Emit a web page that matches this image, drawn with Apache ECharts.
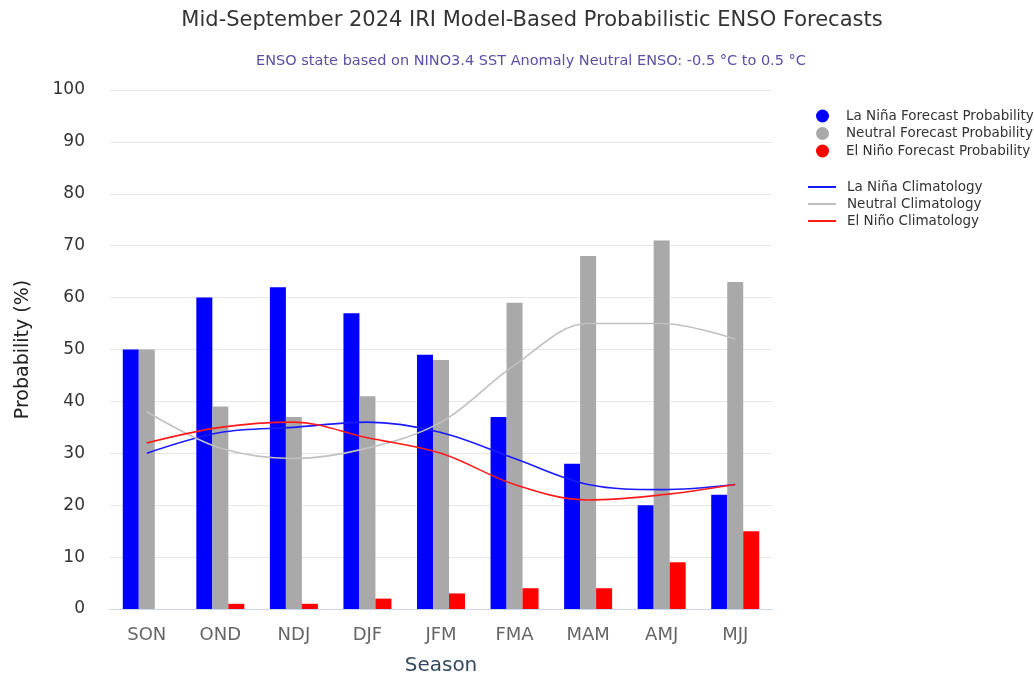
<!DOCTYPE html>
<html>
<head>
<meta charset="utf-8">
<script src="https://cdn.jsdelivr.net/npm/echarts@6/dist/echarts.min.js"></script>
<style>
  html, body { margin: 0; padding: 0; background: #fff; }
  #chart { width: 1034px; height: 681px; }
</style>
</head>
<body>
<div id="chart"></div>
<script>
const seasons = ['SON', 'OND', 'NDJ', 'DJF', 'JFM', 'FMA', 'MAM', 'AMJ', 'MJJ'];

// forecast probabilities (%)
const laNinaForecast = [50, 60, 62, 57, 49, 37, 28, 20, 22];
const neutralForecast = [50, 39, 37, 41, 48, 59, 68, 71, 63];
const elNinoForecast = [0, 1, 1, 2, 3, 4, 4, 9, 15];

// climatology (%)
const laNinaClim = [30, 34, 35, 36, 34, 29, 24, 23, 24];
const neutralClim = [38, 31, 29, 31, 36, 47, 55, 55, 52];
const elNinoClim = [32, 35, 36, 33, 30, 24, 21, 22, 24];

const FONT = '"DejaVu Sans", Verdana, sans-serif';

const chart = echarts.init(document.getElementById('chart'));

const barSeries = (name, data, color) => ({
  name: name,
  type: 'bar',
  data: data,
  barWidth: 16,
  barGap: '0%',
  itemStyle: { color: color },
  emphasis: { disabled: true }
});

const lineSeries = (name, data, color) => ({
  name: name,
  type: 'line',
  data: data,
  smooth: 0.35,
  symbol: 'none',
  lineStyle: { color: color, width: 1.6 },
  itemStyle: { color: color },
  z: 5
});

chart.setOption({
  animation: false,
  title: [{
    text: 'Mid-September 2024 IRI Model-Based Probabilistic ENSO Forecasts',
    left: 527, top: 5, textAlign: 'center',
    textStyle: { fontFamily: FONT, fontSize: 21, fontWeight: 'normal', color: '#333' }
  }, {
    text: 'ENSO state based on NINO3.4 SST Anomaly Neutral ENSO: -0.5 °C to 0.5 °C',
    left: 526, top: 49, textAlign: 'center',
    textStyle: { fontFamily: FONT, fontSize: 14.5, fontWeight: 'normal', color: '#5a4ea6' }
  }],
  legend: [{
    orient: 'vertical',
    left: 811, top: 104,
    icon: 'circle',
    itemWidth: 13, itemHeight: 13, itemGap: 3.5,
    textStyle: { fontFamily: FONT, fontSize: 13.5, color: '#333', padding: [0, 0, 0, 12] },
    data: ['La Niña Forecast Probability', 'Neutral Forecast Probability', 'El Niño Forecast Probability']
  }, {
    orient: 'vertical',
    left: 803, top: 175,
    icon: 'rect',
    itemWidth: 28, itemHeight: 2, itemGap: 3,
    textStyle: { fontFamily: FONT, fontSize: 13.5, color: '#333', padding: [0, 0, 0, 6] },
    data: ['La Niña Climatology', 'Neutral Climatology', 'El Niño Climatology']
  }],
  grid: { left: 110, right: 262, top: 90, bottom: 72, outerBoundsMode: 'none' },
  xAxis: {
    type: 'category',
    data: seasons,
    name: 'Season',
    nameLocation: 'middle',
    nameGap: 47,
    nameTextStyle: { fontFamily: FONT, fontSize: 20, color: '#34495e' },
    axisLine: { lineStyle: { color: '#ccd6eb' } },
    axisTick: { show: false },
    axisLabel: { fontFamily: FONT, fontSize: 18, color: '#666', margin: 17 }
  },
  yAxis: {
    type: 'value',
    min: 0, max: 100, interval: 10,
    name: 'Probability (%)',
    nameLocation: 'middle',
    nameGap: 77,
    nameTextStyle: { fontFamily: FONT, fontSize: 19, color: '#222' },
    axisLine: { show: false },
    axisTick: { show: false },
    axisLabel: { fontFamily: FONT, fontSize: 17, color: '#333', margin: 25 },
    splitLine: { lineStyle: { color: '#e6e6e6' } }
  },
  series: [
    barSeries('La Niña Forecast Probability', laNinaForecast, '#0000ff'),
    barSeries('Neutral Forecast Probability', neutralForecast, '#a9a9a9'),
    barSeries('El Niño Forecast Probability', elNinoForecast, '#ff0000'),
    lineSeries('La Niña Climatology', laNinaClim, '#1a1aff'),
    lineSeries('Neutral Climatology', neutralClim, '#c0c0c0'),
    lineSeries('El Niño Climatology', elNinoClim, '#ff1a1a')
  ]
});
</script>
</body>
</html>
